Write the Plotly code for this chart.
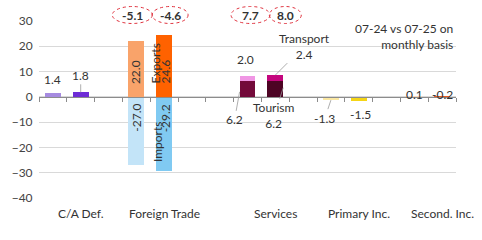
import plotly.graph_objects as go

# ---- data ----
groups = ["C/A Def.", "Foreign Trade", "Services", "Primary Inc.", "Second. Inc."]
group_start = [0, 3, 7, 10, 13]          # slot index of first bar of each group
ca_def = [1.4, 1.8]
exports = [22.0, 24.6]
imports = [-27.0, -29.2]
tourism = [6.2, 6.2]
transport = [2.0, 2.4]
primary = [-1.3, -1.5]
secondary = [0.1, -0.2]
trade_balance = [-5.1, -4.6]
services_balance = [7.7, 8.0]
y_ticks = [-40, -30, -20, -10, 0, 10, 20, 30]

FONT = "Lato"
TXT = "#333333"
YMIN, YMAX = -40, 30
W = 0.57
SLOT_PX = 28.13

def pos(g):
    return [group_start[g], group_start[g] + 1]

fig = go.Figure()

def bars(g, vals, colors):
    fig.add_trace(go.Bar(x=pos(g), y=vals, width=W, marker=dict(color=colors, line=dict(width=0)),
                         showlegend=False, hoverinfo="skip"))

bars(0, ca_def, ["#a68be0", "#6e2dd6"])
bars(1, exports, ["#f9a36a", "#ff6200"])
bars(1, imports, ["#c3e4f8", "#80caf2"])
bars(2, tourism, ["#730a3a", "#4d0424"])
bars(2, transport, ["#f096e4", "#c4067e"])
bars(3, primary, ["#fbe8a3", "#f5d516"])
bars(4, secondary, ["#fcd8bc", "#e85a1e"])

ann = []
def a(x, y, text, **kw):
    d = dict(x=x, y=y, text=text, showarrow=False, xanchor="center", yanchor="middle",
             font=dict(family=FONT, size=12, color=TXT))
    d.update(kw)
    ann.append(d)

def rot(x, y, text):
    ann.append(dict(x=x, y=y, text=text, showarrow=False, textangle=-90,
                    font=dict(family=FONT, size=12, color=TXT)))

# C/A deficit labels
ca = pos(0)
a(ca[0], ca_def[0], f"{ca_def[0]:.1f}", yanchor="bottom", yshift=4)
a(ca[1], ca_def[1], f"{ca_def[1]:.1f}", showarrow=True, arrowhead=0, arrowwidth=0.8,
  arrowcolor="#999999", ax=0, ay=-17)

# Foreign trade labels (rotated)
ft = pos(1)
rot(ft[0], exports[0] * 0.45, f"{exports[0]:.1f}")
rot(ft[1] + 1 / SLOT_PX, exports[1] * 0.41, f"{exports[1]:.1f}")
rot(ft[1] - 9 / SLOT_PX, exports[1] * 0.54, "Exports")
rot(ft[0], imports[0] * 0.30, f"{imports[0]:.1f}")
rot(ft[1] + 1 / SLOT_PX, imports[1] * 0.29, f"{imports[1]:.1f}")
rot(ft[1] - 6 / SLOT_PX, imports[1] * 0.61, "Imports")

# Services labels
sv = pos(2)
a(sv[0], tourism[0] + transport[0], f"{transport[0]:.1f}", yanchor="bottom", yshift=7, xshift=-2)
a(sv[1], tourism[1] + transport[1], f"Transport<br>{transport[1]:.1f}", showarrow=True,
  arrowhead=0, arrowwidth=0.8, arrowcolor="#999999", ax=29, ay=-29)
a(sv[0] - W / 2, tourism[0] * 0.32, f"{tourism[0]:.1f}", showarrow=True, arrowhead=0,
  arrowwidth=0.8, arrowcolor="#999999", ax=-5, ay=28)
a(sv[1] + W / 2, tourism[1] * 0.58, f"Tourism<br>{tourism[1]:.1f}", showarrow=True, arrowhead=0,
  arrowwidth=0.8, arrowcolor="#999999", ax=-9, ay=28)

# Primary income
pi = pos(3)
a(pi[0], primary[0], f"{primary[0]:.1f}", showarrow=True, arrowhead=0, arrowwidth=0.8,
  arrowcolor="#999999", ax=-6, ay=18)
a(pi[1], primary[1], f"{primary[1]:.1f}", yanchor="top", yshift=-4, xshift=2)

# Secondary income
si = pos(4)
a(si[0], 0, f"{secondary[0]:.1f}", yshift=2)
a(si[1], 0, f"{secondary[1]:.1f}", yshift=2)

# Category labels
for g, name in enumerate(groups):
    a(pos(g)[1], 0, name, yref="paper", yshift=-15)

# Note
a(14.45, 30, "07-24 vs 07-25 on<br>monthly basis", xanchor="right", yanchor="top", yshift=2,
  align="right")

# Balance ovals
shapes = []
ovals = [(ft[0], trade_balance[0], -4, 40), (ft[1], trade_balance[1], 6, 36),
         (sv[0], services_balance[0], 3, 39), (sv[1], services_balance[1], 10, 32)]
for xc, val, dx, w in ovals:
    shapes.append(dict(type="circle", xref="x", yref="paper", xsizemode="pixel", ysizemode="pixel",
                       xanchor=xc, yanchor=1, x0=dx - w / 2, x1=dx + w / 2, y0=-2.5, y1=14.5,
                       line=dict(color="#e0323e", width=1, dash="dot")))
    a(xc, 1, f"<b>{val:.1f}</b>", yref="paper", yshift=6, xshift=dx)

fig.update_layout(
    width=482, height=240, margin=dict(l=34, r=26, t=21, b=42),
    paper_bgcolor="white", plot_bgcolor="white",
    barmode="relative", bargap=0,
    font=dict(family=FONT, size=12, color=TXT),
    annotations=ann, shapes=shapes,
    xaxis=dict(range=[-0.5, 14.5], anchor="free", position=(0 - YMIN) / (YMAX - YMIN),
               showline=True, linecolor="#8c8c8c", linewidth=1,
               ticks="outside", ticklen=4, tickcolor="#8c8c8c", tickwidth=1,
               tickmode="linear", tick0=-0.5, dtick=1, showticklabels=False,
               showgrid=False, zeroline=False, fixedrange=True),
    yaxis=dict(range=[YMIN, YMAX], tickvals=y_ticks, showgrid=True, gridcolor="#d9d9d9",
               gridwidth=1, zeroline=False, ticks="outside", ticklen=3,
               tickcolor="rgba(0,0,0,0)", tickfont=dict(size=12, color="#444444")),
)

fig.write_html("out.html")
